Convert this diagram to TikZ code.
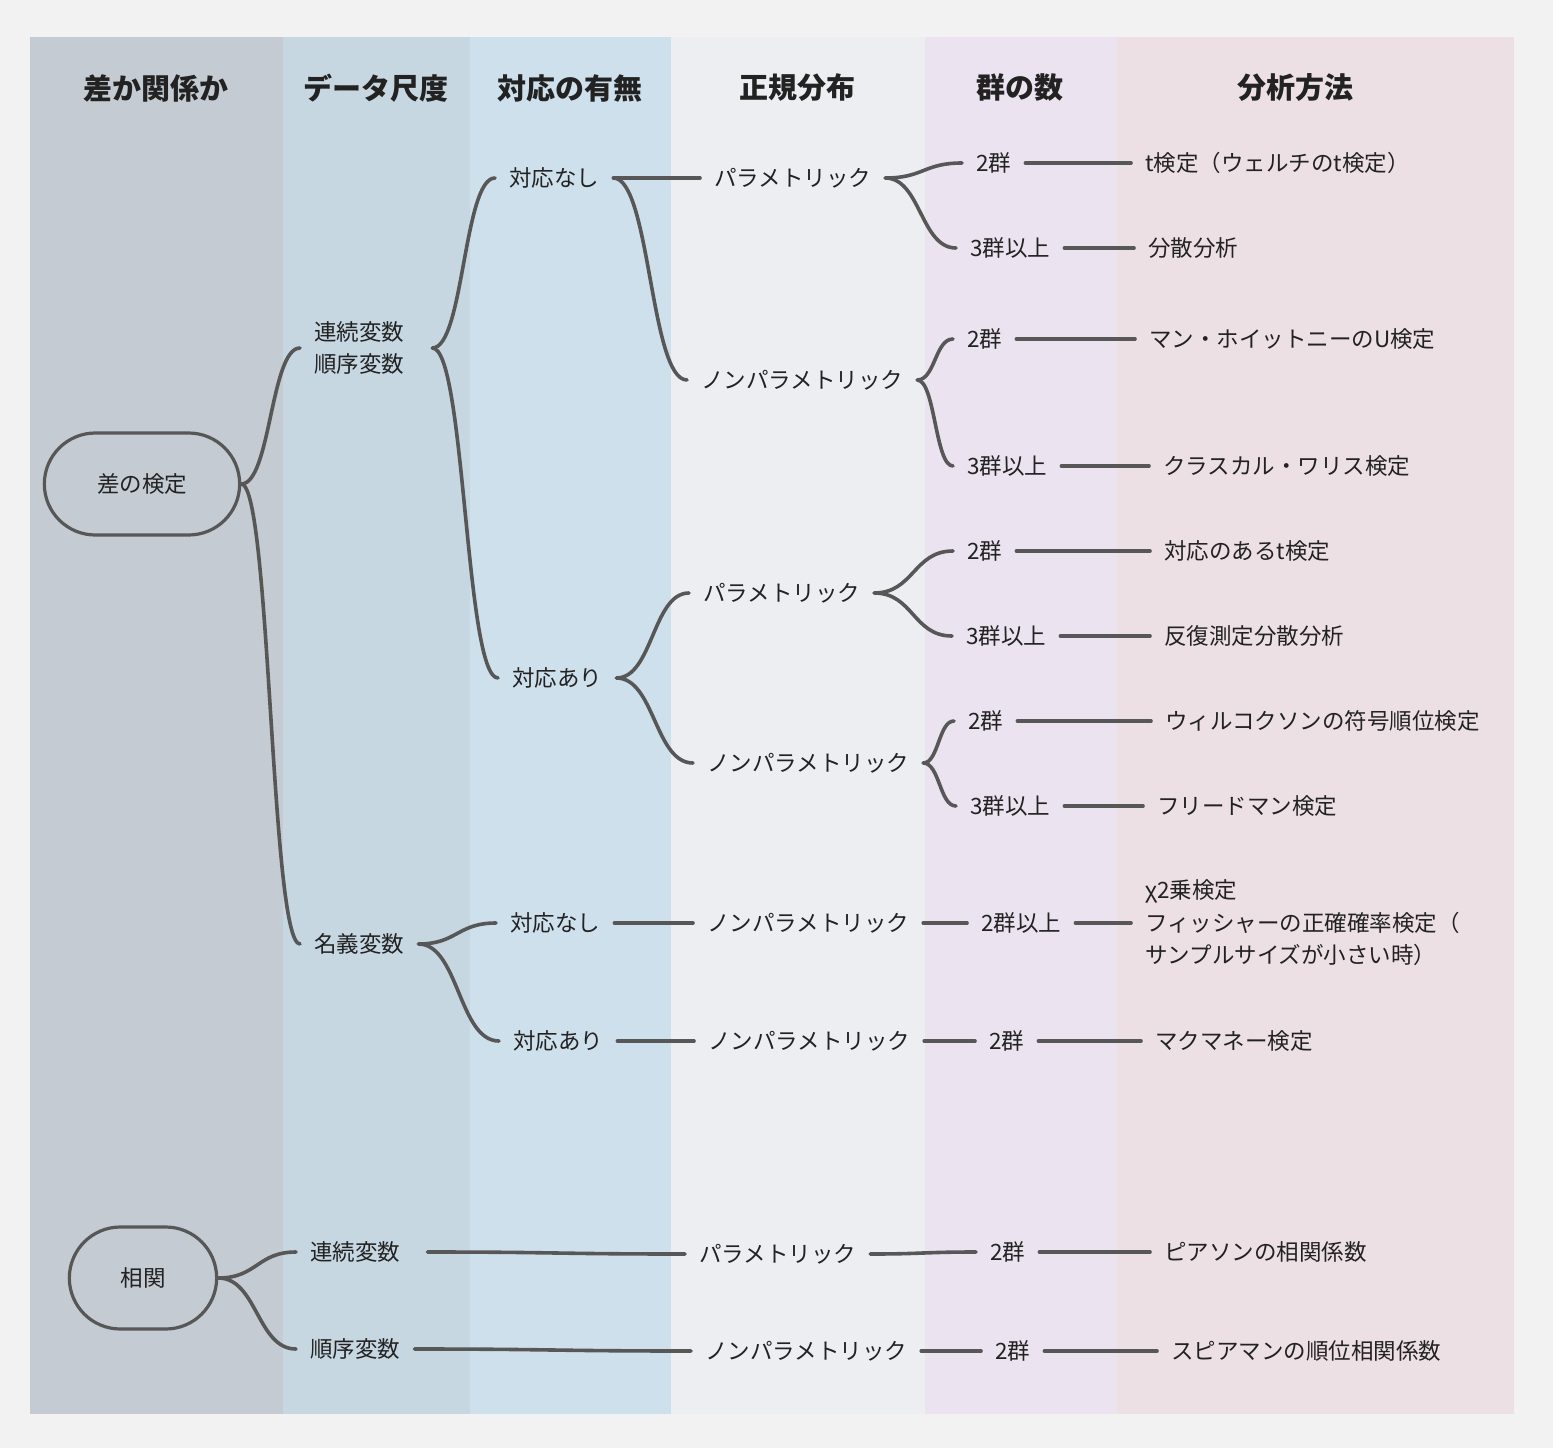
\documentclass[tikz,border=0pt]{standalone}
\usepackage{fontspec}
\setmainfont{Noto Sans CJK JP}
\usetikzlibrary{calc,shapes.misc}
\definecolor{bgc}{HTML}{F2F2F2}
\definecolor{colA}{HTML}{C4CBD2}
\definecolor{colB}{HTML}{C6D7E2}
\definecolor{colC}{HTML}{CEE0EC}
\definecolor{colD}{HTML}{ECEEF1}
\definecolor{colE}{HTML}{EBE3EF}
\definecolor{colF}{HTML}{EDE0E5}
\definecolor{linec}{HTML}{575757}
\definecolor{txtc}{HTML}{222222}
\tikzset{
  hdr/.style={font=\fontsize{29}{34}\selectfont\bfseries, text=txtc, inner sep=0pt},
  lbl/.style={font=\fontsize{22.5}{32.5}\selectfont, text=txtc, inner xsep=14pt, inner ysep=2pt, anchor=west},
  pill/.style={rounded rectangle, draw=linec, line width=3.2pt, font=\fontsize{22.5}{32.5}\selectfont, text=txtc},
  link/.style={draw=linec, line width=3.6pt, line cap=round},
  curv/.style={to path={.. controls ($(\tikztostart)!0.5!(\tikztostart-|\tikztotarget)$) and ($(\tikztotarget)!0.5!(\tikztotarget-|\tikztostart)$) .. (\tikztotarget) \tikztonodes}}
}
\begin{document}
\begin{tikzpicture}[x=1pt,y=-1pt]
\useasboundingbox[fill=bgc] (0,0) rectangle (1553,1448);
% columns
\fill[colA] (30,37) rectangle (283,1414);
\fill[colB] (283,37) rectangle (470,1414);
\fill[colC] (470,37) rectangle (671,1414);
\fill[colD] (671,37) rectangle (925,1414);
\fill[colE] (925,37) rectangle (1117,1414);
\fill[colF] (1117,37) rectangle (1514,1414);
% headers
\node[hdr] (t1) at (156,88) {差か関係か};
\node[hdr] (t2) at (376,88) {データ尺度};
\node[hdr] (t3) at (570,88) {対応の有無};
\node[hdr] (t4) at (797,88) {正規分布};
\node[hdr] (t5) at (1020,88) {群の数};
\node[hdr] (t6) at (1295,88) {分析方法};
% column 1
\node[pill, minimum width=202pt, minimum height=102pt] (n1) at (142,484) {差の検定};
\node[pill, minimum width=154pt, minimum height=102pt] (n2) at (143,1278) {相関};
% column 2
\node[lbl, text width=104pt, align=left] (d1) at (300,348) {連続変数\\順序変数};
\node[lbl] (d2) at (300,944) {名義変数};
\node[lbl, text width=103pt, align=left] (d3) at (296,1252) {連続変数};
\node[lbl] (d4) at (296,1349) {順序変数};
% column 3
\node[lbl] (e1) at (495,178) {対応なし};
\node[lbl] (e2) at (498,678) {対応あり};
\node[lbl] (e3) at (496,923) {対応なし};
\node[lbl] (e4) at (499,1041) {対応あり};
% column 4
\node[lbl] (f1) at (700,178) {パラメトリック};
\node[lbl] (f2) at (687,380) {ノンパラメトリック};
\node[lbl] (f3) at (689,593) {パラメトリック};
\node[lbl] (f4) at (693,763) {ノンパラメトリック};
\node[lbl] (f5) at (693,923) {ノンパラメトリック};
\node[lbl] (f6) at (694,1041) {ノンパラメトリック};
\node[lbl] (f7) at (685,1254) {パラメトリック};
\node[lbl] (f8) at (691,1351) {ノンパラメトリック};
% column 5
\node[lbl] (g1) at (962,163) {2群};
\node[lbl] (g2) at (956,248) {3群以上};
\node[lbl] (g3) at (953,339) {2群};
\node[lbl] (g4) at (953,466) {3群以上};
\node[lbl] (g5) at (953,551) {2群};
\node[lbl] (g6) at (952,636) {3群以上};
\node[lbl] (g7) at (954,721) {2群};
\node[lbl] (g8) at (956,806) {3群以上};
\node[lbl] (g9) at (967,923) {2群以上};
\node[lbl] (g10) at (975,1041) {2群};
\node[lbl] (g11) at (976,1252) {2群};
\node[lbl] (g12) at (981,1351) {2群};
% column 6
\node[lbl] (h1) at (1131,163) {t検定（ウェルチのt検定）};
\node[lbl] (h2) at (1134,248) {分散分析};
\node[lbl] (h3) at (1135,339) {マン・ホイットニーのU検定};
\node[lbl] (h4) at (1149,466) {クラスカル・ワリス検定};
\node[lbl] (h5) at (1150,551) {対応のあるt検定};
\node[lbl] (h6) at (1150,636) {反復測定分散分析};
\node[lbl] (h7) at (1151,721) {ウィルコクソンの符号順位検定};
\node[lbl] (h8) at (1143,806) {フリードマン検定};
\node[lbl, align=left] (h9) at (1131,923) {χ2乗検定\\フィッシャーの正確確率検定（\\サンプルサイズが小さい時）};
\node[lbl] (h10) at (1141,1041) {マクマネー検定};
\node[lbl] (h11) at (1150,1252) {ピアソンの相関係数};
\node[lbl] (h12) at (1157,1351) {スピアマンの順位相関係数};
% connectors
\draw[link] (n1.east) to[curv] (d1.west);
\draw[link] (n1.east) to[curv] (d2.west);
\draw[link] (n2.east) to[curv] (d3.west);
\draw[link] (n2.east) to[curv] (d4.west);
\draw[link] (d1.east) to[curv] (e1.west);
\draw[link] (d1.east) to[curv] (e2.west);
\draw[link] (d2.east) to[curv] (e3.west);
\draw[link] (d2.east) to[curv] (e4.west);
\draw[link] (d3.east) to[curv] (f7.west);
\draw[link] (d4.east) to[curv] (f8.west);
\draw[link] (e1.east) to[curv] (f1.west);
\draw[link] (e1.east) to[curv] (f2.west);
\draw[link] (e2.east) to[curv] (f3.west);
\draw[link] (e2.east) to[curv] (f4.west);
\draw[link] (e3.east) to[curv] (f5.west);
\draw[link] (e4.east) to[curv] (f6.west);
\draw[link] (f1.east) to[curv] (g1.west);
\draw[link] (f1.east) to[curv] (g2.west);
\draw[link] (f2.east) to[curv] (g3.west);
\draw[link] (f2.east) to[curv] (g4.west);
\draw[link] (f3.east) to[curv] (g5.west);
\draw[link] (f3.east) to[curv] (g6.west);
\draw[link] (f4.east) to[curv] (g7.west);
\draw[link] (f4.east) to[curv] (g8.west);
\draw[link] (f5.east) to[curv] (g9.west);
\draw[link] (f6.east) to[curv] (g10.west);
\draw[link] (f7.east) to[curv] (g11.west);
\draw[link] (f8.east) to[curv] (g12.west);
\draw[link] (g1.east) to[curv] (h1.west);
\draw[link] (g2.east) to[curv] (h2.west);
\draw[link] (g3.east) to[curv] (h3.west);
\draw[link] (g4.east) to[curv] (h4.west);
\draw[link] (g5.east) to[curv] (h5.west);
\draw[link] (g6.east) to[curv] (h6.west);
\draw[link] (g7.east) to[curv] (h7.west);
\draw[link] (g8.east) to[curv] (h8.west);
\draw[link] (g9.east) to[curv] (h9.west);
\draw[link] (g10.east) to[curv] (h10.west);
\draw[link] (g11.east) to[curv] (h11.west);
\draw[link] (g12.east) to[curv] (h12.west);
\end{tikzpicture}
\end{document}
